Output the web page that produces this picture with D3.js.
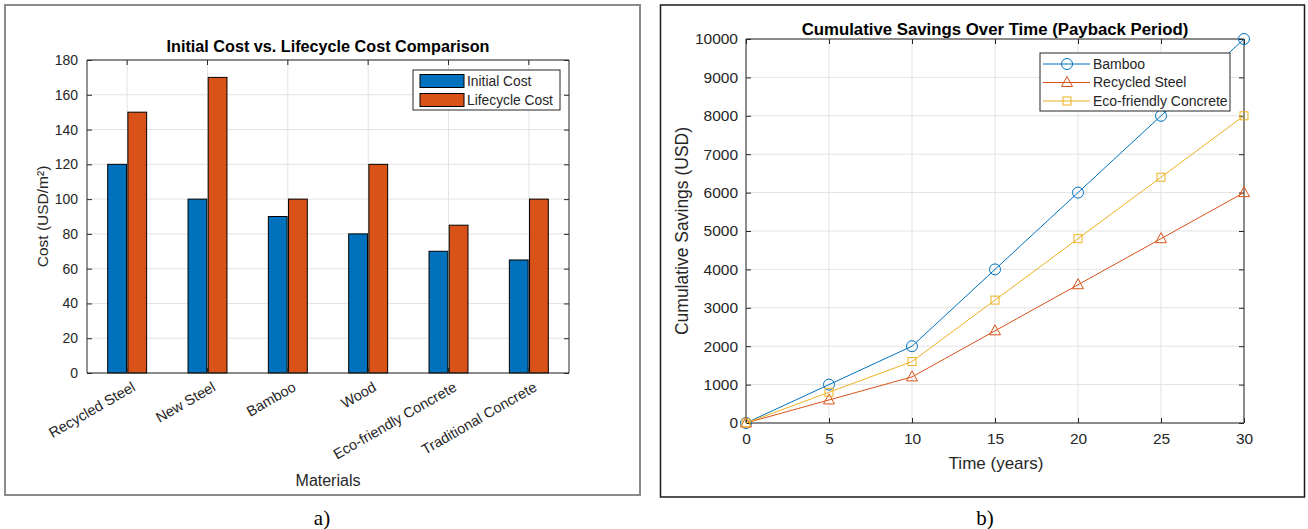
<!DOCTYPE html>
<html>
<head>
<meta charset="utf-8">
<script src="https://cdn.jsdelivr.net/npm/d3@7"></script>
<style>
  body { margin: 0; background: #fff; }
  svg { display: block; font-family: "Liberation Sans", Arial, sans-serif; }
</style>
</head>
<body>
<svg id="chart" width="1308" height="529"></svg>
<script>
// Data - panel a)
const materials = ["Recycled Steel", "New Steel", "Bamboo", "Wood", "Eco-friendly Concrete", "Traditional Concrete"];
const initialCost = [120, 100, 90, 80, 70, 65];
const lifecycleCost = [150, 170, 100, 120, 85, 100];
const costTicks = [0, 20, 40, 60, 80, 100, 120, 140, 160, 180];

// Data - panel b)
const years = [0, 5, 10, 15, 20, 25, 30];
const bambooSavings = [0, 1000, 2000, 4000, 6000, 8000, 10000];
const steelSavings = [0, 600, 1200, 2400, 3600, 4800, 6000];
const concreteSavings = [0, 800, 1600, 3200, 4800, 6400, 8000];
const savingsTicks = [0, 1000, 2000, 3000, 4000, 5000, 6000, 7000, 8000, 9000, 10000];
const yearTicks = [0, 5, 10, 15, 20, 25, 30];

const blue = "#0072BD", orange = "#D95319", yellow = "#EDB120";
const axisCol = "#262626", gridCol = "#e3e3e3";

const svg = d3.select("#chart");

// panel frames
svg.append("rect").attr("x", 5).attr("y", 5).attr("width", 635).attr("height", 490)
  .attr("fill", "none").attr("stroke", "#8a8a8a").attr("stroke-width", 2);
svg.append("rect").attr("x", 660.5).attr("y", 5).attr("width", 644).attr("height", 492)
  .attr("fill", "none").attr("stroke", "#1a1a1a").attr("stroke-width", 1.5);

// captions
svg.append("text").attr("x", 322).attr("y", 525).attr("text-anchor", "middle")
  .style("font-family", "'Liberation Serif', serif").style("font-size", "21px").text("a)");
svg.append("text").attr("x", 985).attr("y", 525).attr("text-anchor", "middle")
  .style("font-family", "'Liberation Serif', serif").style("font-size", "21px").text("b)");

// ---------- a) bar chart ----------
const A = {left: 87, right: 569, top: 60, bottom: 373};
const x0 = d3.scaleBand().domain(materials).range([A.left, A.right]).paddingInner(0.48).paddingOuter(0.24);
const x1 = d3.scaleBand().domain(["init", "life"]).range([0, x0.bandwidth()]).padding(0.07);
const yA = d3.scaleLinear().domain([0, 180]).range([A.bottom, A.top]);
const ga = svg.append("g");

// grid
ga.selectAll(".hg").data(costTicks).join("line")
  .attr("x1", A.left).attr("x2", A.right).attr("y1", d => yA(d)).attr("y2", d => yA(d))
  .attr("stroke", gridCol);
ga.selectAll(".vg").data(materials).join("line")
  .attr("x1", d => x0(d) + x0.bandwidth() / 2).attr("x2", d => x0(d) + x0.bandwidth() / 2)
  .attr("y1", A.top).attr("y2", A.bottom).attr("stroke", gridCol);

// bars
const rows = materials.map((m, i) => ({m, init: initialCost[i], life: lifecycleCost[i]}));
const grp = ga.selectAll(".grp").data(rows).join("g").attr("transform", d => `translate(${x0(d.m)},0)`);
grp.append("rect").attr("x", x1("init")).attr("width", x1.bandwidth())
  .attr("y", d => yA(d.init)).attr("height", d => yA(0) - yA(d.init))
  .attr("fill", blue).attr("stroke", "#000").attr("stroke-width", 1);
grp.append("rect").attr("x", x1("life")).attr("width", x1.bandwidth())
  .attr("y", d => yA(d.life)).attr("height", d => yA(0) - yA(d.life))
  .attr("fill", orange).attr("stroke", "#000").attr("stroke-width", 1);

// axes (box with inward ticks)
const tl = 5;
const axL = ga.append("g").attr("transform", `translate(${A.left},0)`)
  .call(d3.axisLeft(yA).tickValues(costTicks).tickSize(-tl).tickPadding(9));
const axR = ga.append("g").attr("transform", `translate(${A.right},0)`)
  .call(d3.axisRight(yA).tickValues(costTicks).tickSize(-tl).tickFormat(""));
const axB = ga.append("g").attr("transform", `translate(0,${A.bottom})`)
  .call(d3.axisBottom(x0).tickSize(-tl).tickFormat(""));
const axT = ga.append("g").attr("transform", `translate(0,${A.top})`)
  .call(d3.axisTop(x0).tickSize(-tl).tickFormat(""));
[axL, axR, axB, axT].forEach(a => {
  a.select(".domain").attr("stroke", axisCol).attr("stroke-width", 1);
  a.selectAll(".tick line").attr("stroke", axisCol);
  a.selectAll("text").attr("fill", axisCol).style("font-size", "14px").style("font-family", null);
});
axB.select(".domain").attr("d", `M${A.left},0H${A.right}`);
axT.select(".domain").attr("d", `M${A.left},0H${A.right}`);
axL.select(".domain").attr("d", `M0,${A.bottom}V${A.top}`);
axR.select(".domain").attr("d", `M0,${A.bottom}V${A.top}`);

// rotated category labels
ga.selectAll(".xl").data(materials).join("text")
  .attr("transform", d => `translate(${x0(d) + x0.bandwidth() / 2 + 4},${A.bottom + 8}) rotate(-30)`)
  .attr("text-anchor", "end").attr("dy", "0.71em")
  .attr("fill", axisCol).style("font-size", "14.5px").text(d => d);

// titles
ga.append("text").attr("x", (A.left + A.right) / 2).attr("y", 52).attr("text-anchor", "middle")
  .attr("fill", "#000").style("font-size", "16.2px").style("font-weight", "bold")
  .text("Initial Cost vs. Lifecycle Cost Comparison");
ga.append("text").attr("x", (A.left + A.right) / 2).attr("y", 486).attr("text-anchor", "middle")
  .attr("fill", axisCol).style("font-size", "16px").text("Materials");
ga.append("text").attr("transform", `translate(48,${(A.top + A.bottom) / 2}) rotate(-90)`)
  .attr("text-anchor", "middle").attr("fill", axisCol).style("font-size", "15.5px")
  .text("Cost (USD/m²)");

// legend
const lgA = ga.append("g").attr("transform", "translate(413,70)");
lgA.append("rect").attr("width", 147).attr("height", 40).attr("fill", "#fff")
  .attr("stroke", axisCol).attr("stroke-width", 1);
[["Initial Cost", blue], ["Lifecycle Cost", orange]].forEach((d, i) => {
  lgA.append("rect").attr("x", 7).attr("y", 4.5 + i * 19).attr("width", 44).attr("height", 13)
    .attr("fill", d[1]).attr("stroke", "#000");
  lgA.append("text").attr("x", 54).attr("y", 11 + i * 19).attr("dy", "0.35em")
    .attr("fill", axisCol).style("font-size", "13.8px").text(d[0]);
});

// ---------- b) line chart ----------
const B = {left: 746, right: 1244, top: 39, bottom: 423};
const xB = d3.scaleLinear().domain([0, 30]).range([B.left, B.right]);
const yB = d3.scaleLinear().domain([0, 10000]).range([B.bottom, B.top]);
const gb = svg.append("g");

gb.selectAll(".hg").data(savingsTicks).join("line")
  .attr("x1", B.left).attr("x2", B.right).attr("y1", d => yB(d)).attr("y2", d => yB(d))
  .attr("stroke", gridCol);
gb.selectAll(".vg").data(yearTicks).join("line")
  .attr("x1", d => xB(d)).attr("x2", d => xB(d)).attr("y1", B.top).attr("y2", B.bottom)
  .attr("stroke", gridCol);

const bL = gb.append("g").attr("transform", `translate(${B.left},0)`)
  .call(d3.axisLeft(yB).tickValues(savingsTicks).tickSize(-tl).tickPadding(8).tickFormat(d3.format("d")));
const bR = gb.append("g").attr("transform", `translate(${B.right},0)`)
  .call(d3.axisRight(yB).tickValues(savingsTicks).tickSize(-tl).tickFormat(""));
const bB = gb.append("g").attr("transform", `translate(0,${B.bottom})`)
  .call(d3.axisBottom(xB).tickValues(yearTicks).tickSize(-tl).tickPadding(10));
const bT = gb.append("g").attr("transform", `translate(0,${B.top})`)
  .call(d3.axisTop(xB).tickValues(yearTicks).tickSize(-tl).tickFormat(""));
[bL, bR, bB, bT].forEach(a => {
  a.select(".domain").attr("stroke", axisCol).attr("stroke-width", 1);
  a.selectAll(".tick line").attr("stroke", axisCol);
  a.selectAll("text").attr("fill", axisCol).style("font-size", "15.5px").style("font-family", null);
});
bB.select(".domain").attr("d", `M${B.left},0H${B.right}`);
bT.select(".domain").attr("d", `M${B.left},0H${B.right}`);
bL.select(".domain").attr("d", `M0,${B.bottom}V${B.top}`);
bR.select(".domain").attr("d", `M0,${B.bottom}V${B.top}`);

const series = [
  {name: "Bamboo", vals: bambooSavings, color: blue, marker: "circle"},
  {name: "Recycled Steel", vals: steelSavings, color: orange, marker: "triangle"},
  {name: "Eco-friendly Concrete", vals: concreteSavings, color: yellow, marker: "square"}
];
const line = d3.line().x((d, i) => xB(years[i])).y(d => yB(d));

function drawMarker(g, type, color) {
  if (type === "circle") {
    g.append("circle").attr("r", 5.5).attr("fill", "none").attr("stroke", color);
  } else if (type === "triangle") {
    g.append("path").attr("d", "M0,-6L5.5,4L-5.5,4Z").attr("fill", "none").attr("stroke", color);
  } else {
    g.append("rect").attr("x", -4).attr("y", -4).attr("width", 8).attr("height", 8)
      .attr("fill", "none").attr("stroke", color);
  }
}

series.forEach(s => {
  gb.append("path").datum(s.vals).attr("d", line).attr("fill", "none")
    .attr("stroke", s.color).attr("stroke-width", 1);
  s.vals.forEach((v, i) => {
    const m = gb.append("g").attr("transform", `translate(${xB(years[i])},${yB(v)})`);
    drawMarker(m, s.marker, s.color);
  });
});

gb.append("text").attr("x", (B.left + B.right) / 2).attr("y", 35).attr("text-anchor", "middle")
  .attr("fill", "#000").style("font-size", "16.8px").style("font-weight", "bold")
  .text("Cumulative Savings Over Time (Payback Period)");
gb.append("text").attr("x", (B.left + B.right) / 2 + 1).attr("y", 469).attr("text-anchor", "middle")
  .attr("fill", axisCol).style("font-size", "17px").text("Time (years)");
gb.append("text").attr("transform", `translate(688,${(B.top + B.bottom) / 2}) rotate(-90)`)
  .attr("text-anchor", "middle").attr("fill", axisCol).style("font-size", "17.5px")
  .text("Cumulative Savings (USD)");

const lgB = gb.append("g").attr("transform", "translate(1040,53)");
lgB.append("rect").attr("width", 190).attr("height", 58).attr("fill", "#fff")
  .attr("stroke", axisCol).attr("stroke-width", 1);
series.forEach((s, i) => {
  const yy = 11 + i * 18.5;
  lgB.append("line").attr("x1", 3).attr("x2", 50).attr("y1", yy).attr("y2", yy)
    .attr("stroke", s.color).attr("stroke-width", 1);
  const m = lgB.append("g").attr("transform", `translate(27,${yy})`);
  drawMarker(m, s.marker, s.color);
  lgB.append("text").attr("x", 53).attr("y", yy).attr("dy", "0.35em")
    .attr("fill", axisCol).style("font-size", "14px").text(s.name);
});
</script>
</body>
</html>
